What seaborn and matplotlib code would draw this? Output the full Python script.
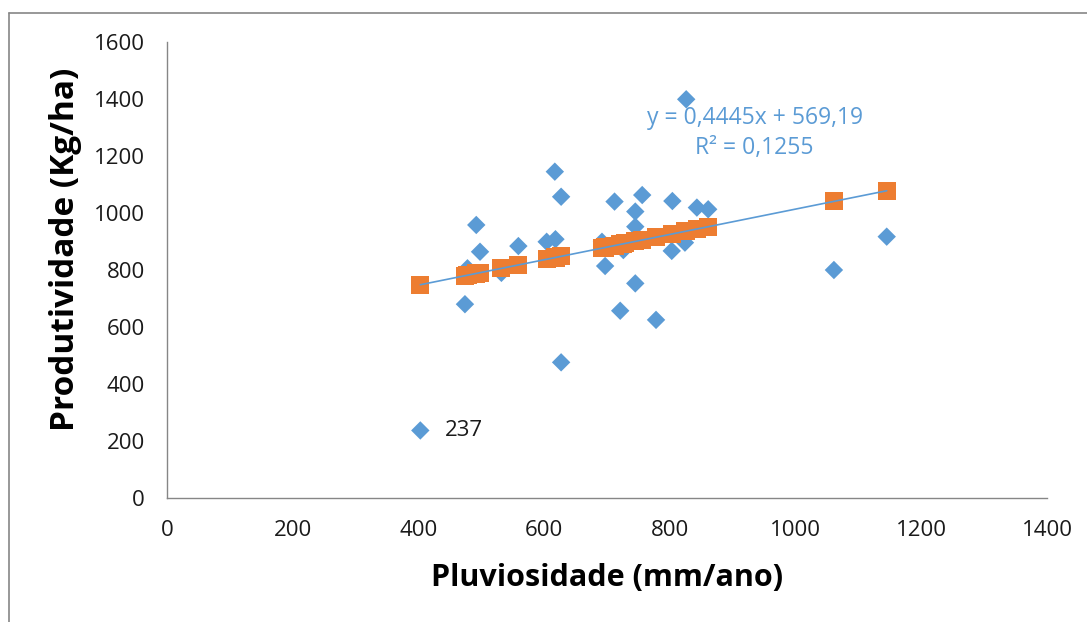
import numpy as np
import pandas as pd
import matplotlib
matplotlib.use('Agg')
import matplotlib.pyplot as plt
import seaborn as sns
from matplotlib.lines import Line2D

pluviosidade = [403, 474, 478, 492, 498, 532, 559, 604, 617, 618, 627, 627,
                692, 697, 712, 721, 726, 729, 745, 745, 745, 756, 778, 803,
                804, 824, 826, 843, 861, 1061, 1145]
produtividade = [237, 680, 806, 958, 864, 790, 884, 899, 1145, 908, 1057, 476,
                 899, 814, 1040, 657, 870, 880, 1005, 952, 753, 1063, 625, 867,
                 1042, 896, 1399, 1019, 1013, 800, 917]
# Predicted values (orange squares, on the trendline)
previsto = [748.3, 779.9, 781.7, 787.9, 790.6, 805.7, 817.7, 837.7, 843.5,
            843.9, 847.9, 847.9, 876.8, 879.0, 885.7, 889.7, 891.9, 893.2,
            900.3, 900.3, 900.3, 905.2, 915.0, 926.1, 926.6, 935.5, 936.4,
            943.9, 951.9, 1040.8, 1078.1]

x_ticks = [0, 200, 400, 600, 800, 1000, 1200, 1400]
y_ticks = [0, 200, 400, 600, 800, 1000, 1200, 1400, 1600]

df = pd.DataFrame({'x': pluviosidade, 'y': produtividade, 'pred': previsto})

sns.set_style('white')
plt.rcParams['font.family'] = ['Open Sans', 'DejaVu Sans']

BLUE = '#5B9BD5'
ORANGE = '#ED7D31'
GRAY = '#868686'
TEXT = '#1a1a1a'

fig = plt.figure(figsize=(10.87, 6.22), dpi=100)
ax = fig.add_axes([167 / 1087, 1 - 498 / 622, 880 / 1087, 456 / 622])

sns.scatterplot(data=df, x='x', y='y', marker='D', s=88, color=BLUE,
                edgecolor='none', ax=ax, zorder=3)
sns.scatterplot(data=df, x='x', y='pred', marker='s', s=170, color=ORANGE,
                edgecolor='none', ax=ax, zorder=4)
sns.lineplot(data=df.sort_values('x'), x='x', y='pred', estimator=None,
             color=BLUE, lw=1.2, ax=ax, zorder=5)

ax.set_xlim(0, 1400)
ax.set_ylim(0, 1600)
ax.set_xticks(x_ticks)
ax.set_yticks(y_ticks)
ax.tick_params(axis='both', labelsize=16, colors=GRAY, labelcolor=TEXT,
               direction='out', width=1)
ax.tick_params(axis='y', length=8, pad=8)
ax.tick_params(axis='x', length=6, pad=10)
for s in ['top', 'right']:
    ax.spines[s].set_visible(False)
for s in ['left', 'bottom']:
    ax.spines[s].set_color(GRAY)
    ax.spines[s].set_linewidth(1)

ax.set_xlabel('Pluviosidade (mm/ano)', fontsize=22, fontweight='bold',
              color='black')
ax.set_ylabel('Produtividade (Kg/ha)', fontsize=24, fontweight='bold',
              color='black')
ax.xaxis.set_label_coords(0.5, -0.142)
ax.yaxis.set_label_coords(-0.097, 0.546)

# data label for the outlier
ax.annotate('237', xy=(403, 237), xytext=(18, 0), textcoords='offset points',
            va='center', ha='left', fontsize=16, color=TEXT)

# trendline equation
ax.text(935, 1333, 'y = 0,4445x + 569,19', ha='center', va='center',
        fontsize=16.5, color=BLUE)
ax.text(935, 1228, 'R² = 0,1255', ha='center', va='center',
        fontsize=16.5, color=BLUE)

# outer chart frame
fig.add_artist(Line2D([9 / 1087, 9 / 1087], [0, 1 - 13 / 622],
                      transform=fig.transFigure, color=GRAY, lw=1.2))
fig.add_artist(Line2D([9 / 1087, 1], [1 - 13 / 622, 1 - 13 / 622],
                      transform=fig.transFigure, color=GRAY, lw=1.2))

plt.savefig('out.png', dpi=100)
